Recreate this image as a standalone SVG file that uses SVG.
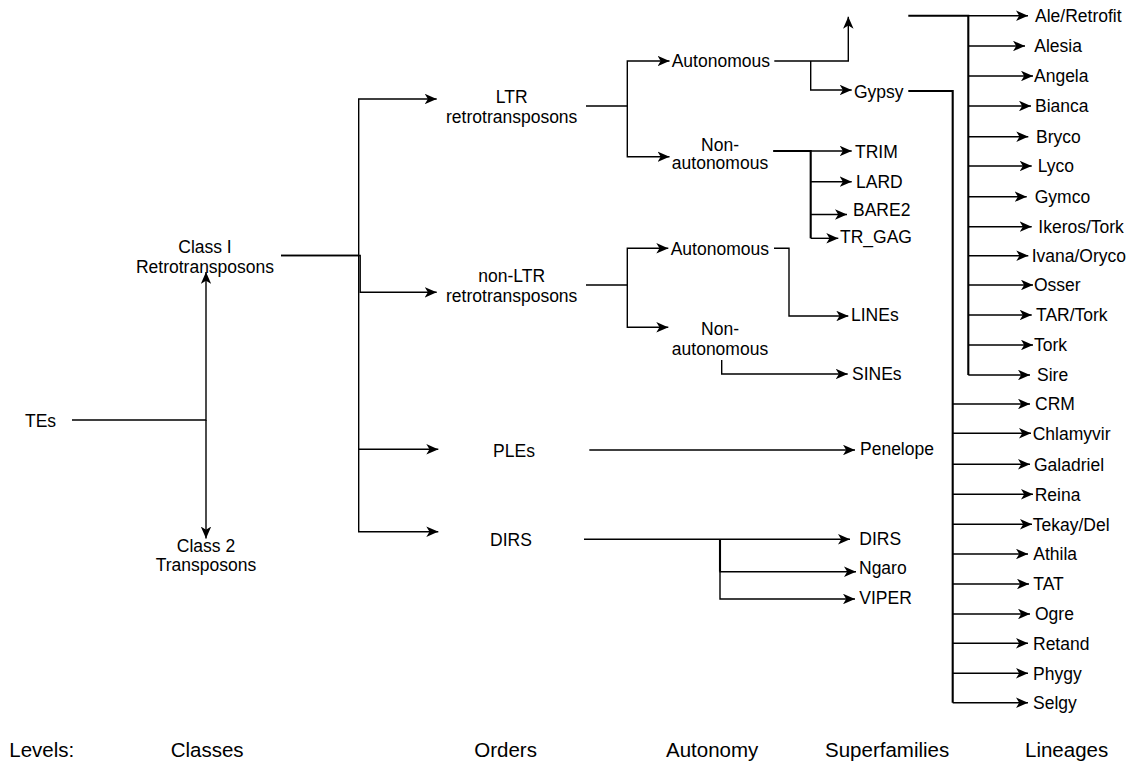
<svg xmlns="http://www.w3.org/2000/svg" width="1140" height="764" viewBox="0 0 1140 764">
<style>
text{font-family:"Liberation Sans",Arial,Helvetica,sans-serif;font-size:17.5px;fill:#000}
.m{text-anchor:middle}
.lv{font-size:20.5px}
.c path{fill:none;stroke:#000;stroke-width:1.4}
.c path.a{marker-end:url(#ah)}
.c path.k{stroke-width:2.1}
</style>
<defs>
<marker id="ah" viewBox="0 0 12 10.5" refX="12" refY="5.25" markerWidth="12" markerHeight="10.5" markerUnits="userSpaceOnUse" orient="auto"><path d="M0,0 L12,5.25 L0,10.5 L3.2,5.25 Z" fill="#000"/></marker>
</defs>
<rect width="1140" height="764" fill="#fff"/>
<g class="c" id="connectors">
<path class="a" d="M72,420 H206 V272"/>
<path class="a" d="M206,420 V538.5"/>
<path class="a" d="M281,255.5 H358.7 V99 H436.7"/>
<path class="a" d="M281,255.5 H360.2 V292.3 H436.7"/>
<path class="a" d="M358.7,255.5 V449.3 H438.3"/>
<path class="a" d="M358.7,449 V531.7 H438.3"/>
<path class="a" d="M586,106 H627.3 V61 H669.5"/>
<path class="a" d="M627.3,106 V156.7 H669.5"/>
<path class="a" d="M774.3,61 H848.3 V16.7"/>
<path class="a" d="M810.7,61 V90 H851.7"/>
<path class="a" d="M773.3,151 H851.7"/>
<path class="k" d="M773.3,151 H810.7 V238.3"/>
<path class="a" d="M810.7,181.7 H851.7"/>
<path class="a" d="M810.7,214.5 H847"/>
<path class="a" d="M810.7,238.3 H838.3"/>
<path class="a" d="M586,285 H627.3 V248.3 H668.3"/>
<path class="a" d="M627.3,285 V327.3 H668.3"/>
<path class="a" d="M774,248.3 H789 V316 H848.3"/>
<path class="a" d="M721.7,360 V374 H847.7"/>
<path class="a" d="M589.3,450 H855"/>
<path class="a" d="M584,539.3 H850"/>
<path class="k" d="M720,539.3 V571.7"/>
<path class="a" d="M720,539.3 V571.7 H856"/>
<path class="a" d="M720,571.7 V599 H855"/>
<path class="k" d="M908.3,15.7 H968.3 V375"/>
<path class="a" d="M968.3,15.7 H1028"/>
<path class="a" d="M968.3,46 H1025"/>
<path class="a" d="M968.3,76 H1033"/>
<path class="a" d="M968.3,106 H1031"/>
<path class="a" d="M968.3,136.7 H1028.3"/>
<path class="a" d="M968.3,166 H1031.7"/>
<path class="a" d="M968.3,196.7 H1026.7"/>
<path class="a" d="M968.3,226.7 H1031.7"/>
<path class="a" d="M968.3,255.7 H1028.3"/>
<path class="a" d="M968.3,285 H1033"/>
<path class="a" d="M968.3,315 H1031.7"/>
<path class="a" d="M968.3,345 H1033"/>
<path class="a" d="M968.3,375 H1030"/>
<path class="k" d="M908.3,91 H952.7 V702.7"/>
<path class="a" d="M952.7,404 H1030"/>
<path class="a" d="M952.7,433.3 H1031"/>
<path class="a" d="M952.7,464.3 H1030"/>
<path class="a" d="M952.7,494.3 H1033"/>
<path class="a" d="M952.7,524.3 H1032"/>
<path class="a" d="M952.7,554 H1028"/>
<path class="a" d="M952.7,584 H1029"/>
<path class="a" d="M952.7,614 H1030"/>
<path class="a" d="M952.7,643.3 H1028"/>
<path class="a" d="M952.7,673.3 H1028"/>
<path class="a" d="M952.7,702.7 H1028"/>
</g>
<g id="n-tes"><text x="25" y="427">TEs</text></g>
<g id="n-class1"><text class="m" x="205" y="252.5">Class I</text><text class="m" x="205" y="273">Retrotransposons</text></g>
<g id="n-class2"><text class="m" x="206" y="551.5">Class 2</text><text class="m" x="206" y="571">Transposons</text></g>
<g id="n-ltr"><text class="m" x="511.7" y="103.3">LTR</text><text class="m" x="511.7" y="122.7">retrotransposons</text></g>
<g id="n-nonltr"><text class="m" x="511.7" y="282.3">non-LTR</text><text class="m" x="511.7" y="302">retrotransposons</text></g>
<g id="n-ples"><text class="m" x="514" y="456.5">PLEs</text></g>
<g id="n-dirs"><text class="m" x="511" y="546">DIRS</text></g>
<g id="n-auto1"><text x="671.7" y="67">Autonomous</text></g>
<g id="n-nonauto1"><text class="m" x="720" y="150.5">Non-</text><text class="m" x="720" y="169">autonomous</text></g>
<g id="n-auto2"><text x="670.7" y="255">Autonomous</text></g>
<g id="n-nonauto2"><text class="m" x="720" y="334.5">Non-</text><text class="m" x="720" y="354.5">autonomous</text></g>
<g id="n-gypsy"><text x="854" y="97.5">Gypsy</text></g>
<g id="n-trim"><text x="855" y="158.3">TRIM</text></g>
<g id="n-lard"><text x="856" y="188.3">LARD</text></g>
<g id="n-bare2"><text x="853" y="215.5">BARE2</text></g>
<g id="n-trgag"><text x="840" y="243.3">TR_GAG</text></g>
<g id="n-lines"><text x="851" y="320.7">LINEs</text></g>
<g id="n-sines"><text x="852" y="380">SINEs</text></g>
<g id="n-penelope"><text x="860" y="455">Penelope</text></g>
<g id="n-dirs2"><text x="859.3" y="545">DIRS</text></g>
<g id="n-ngaro"><text x="859" y="573.5">Ngaro</text></g>
<g id="n-viper"><text x="859.3" y="604">VIPER</text></g>
<g id="n-ale"><text x="1035" y="22">Ale/Retrofit</text></g>
<g id="n-alesia"><text x="1034.3" y="52.3">Alesia</text></g>
<g id="n-angela"><text x="1034" y="82.3">Angela</text></g>
<g id="n-bianca"><text x="1035" y="112.3">Bianca</text></g>
<g id="n-bryco"><text x="1036" y="143">Bryco</text></g>
<g id="n-lyco"><text x="1037.7" y="172.3">Lyco</text></g>
<g id="n-gymco"><text x="1034.7" y="203">Gymco</text></g>
<g id="n-ikeros"><text x="1038.3" y="233">Ikeros/Tork</text></g>
<g id="n-ivana"><text x="1031.7" y="262">Ivana/Oryco</text></g>
<g id="n-osser"><text x="1034" y="291.3">Osser</text></g>
<g id="n-tar"><text x="1036" y="321.3">TAR/Tork</text></g>
<g id="n-tork"><text x="1034" y="351.3">Tork</text></g>
<g id="n-sire"><text x="1037" y="381.3">Sire</text></g>
<g id="n-crm"><text x="1035" y="410.3">CRM</text></g>
<g id="n-chlamyvir"><text x="1032.7" y="439.6">Chlamyvir</text></g>
<g id="n-galadriel"><text x="1034" y="470.6">Galadriel</text></g>
<g id="n-reina"><text x="1034.7" y="500.6">Reina</text></g>
<g id="n-tekay"><text x="1032.7" y="530.6">Tekay/Del</text></g>
<g id="n-athila"><text x="1033.3" y="560.3">Athila</text></g>
<g id="n-tat"><text x="1033.3" y="590.3">TAT</text></g>
<g id="n-ogre"><text x="1035" y="620.3">Ogre</text></g>
<g id="n-retand"><text x="1033" y="649.6">Retand</text></g>
<g id="n-phygy"><text x="1033" y="679.6">Phygy</text></g>
<g id="n-selgy"><text x="1033" y="709">Selgy</text></g>
<g id="levels">
<text class="lv" x="9.3" y="757.3">Levels:</text>
<text class="lv" x="170.7" y="757.3">Classes</text>
<text class="lv" x="474.3" y="757.3">Orders</text>
<text class="lv" x="666" y="757.3">Autonomy</text>
<text class="lv" x="825" y="757.3">Superfamilies</text>
<text class="lv" x="1025" y="757.3">Lineages</text>
</g>
</svg>
